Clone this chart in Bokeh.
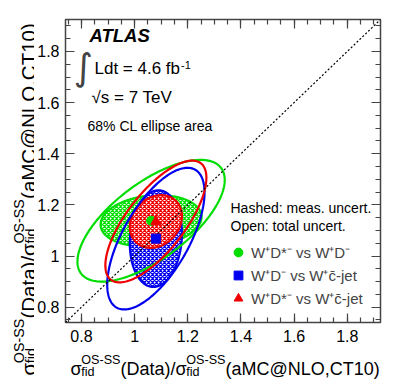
import numpy as np
from bokeh.plotting import figure
from bokeh.models import Label, Range1d, FixedTicker, LinearAxis, Legend, LegendItem, ColumnDataSource
from bokeh.layouts import row, column
from bokeh.embed import file_html
from bokeh.resources import INLINE

# ---------------- data ----------------
legend_labels = ["W⁺D*⁻ vs W⁺D⁻", "W⁺D⁻ vs W⁺c̄-jet", "W⁺D*⁻ vs W⁺c̄-jet"]
cent_x = [1.062, 1.080, 1.080]
cent_y = [1.138, 1.068, 1.135]
meas_sx = [0.190, 0.098, 0.098]
meas_sy = [0.100, 0.189, 0.103]
meas_rho = [0.15, 0.10, 0.20]
tot_sx = [0.277, 0.183, 0.190]
tot_sy = [0.238, 0.277, 0.238]
tot_rho = [0.67, 0.65, 0.72]
colors = ["#00dd00", "#0000ee", "#ee0000"]
markers = ["circle", "square", "triangle"]
axis_ticks = [0.8, 1.0, 1.2, 1.4, 1.6, 1.8]
axis_tick_labels = ["0.8", "1", "1.2", "1.4", "1.6", "1.8"]
axis_range = (0.74, 1.925)

FONT = "Liberation Sans"

# ---------------- layout helpers ----------------
YT_W = 34                            # width of the y-title strip
FL, FT, FW, FH = 64, 19, 315, 303    # frame position on page (px)
MAIN_H = 348
TOTAL_H = 383
RB = 19
span = axis_range[1] - axis_range[0]


def dx(px):
    return axis_range[0] + (px - FL) / FW * span


def dy(py):
    return axis_range[0] + (FT + FH - py) / FH * span


AW = {'(': .333, ')': .333, 'D': .722, 'a': .556, 't': .278, '/': .278, 'M': .833,
      'C': .722, '@': 1.015, 'N': .722, 'L': .556, 'O': .778, ',': .278, 'T': .611,
      '1': .556, '0': .556, 'S': .667, '-': .333, 'f': .278, 'i': .222, 'd': .556,
      'σ': .60, ' ': .278, '=': .584, '4': .556, '.': .278, '6': .556, 'b': .556}


def tw(s, size):
    return sum(AW.get(c, .556) for c in s) * size


def ellipse(cx, cy, sx, sy, rho, n=240):
    t = np.linspace(0, 2 * np.pi, n)
    x = cx + sx * np.cos(t)
    y = cy + sy * (rho * np.cos(t) + np.sqrt(1 - rho ** 2) * np.sin(t))
    return x, y


# ---------------- main figure ----------------
p = figure(frame_width=FW, frame_height=FH,
           x_range=Range1d(*axis_range), y_range=Range1d(*axis_range),
           output_backend="svg", toolbar_location=None,
           min_border_left=FL - YT_W, min_border_right=RB, min_border_top=FT,
           min_border_bottom=MAIN_H - FT - FH)
p.frame_align = False
p.grid.visible = False
p.outline_line_color = "#444444"
p.outline_line_width = 1.5
p.background_fill_color = "white"

bottom_ax = p.xaxis[0]
left_ax = p.yaxis[0]
top_ax = LinearAxis()
right_ax = LinearAxis()
p.add_layout(top_ax, "above")
p.add_layout(right_ax, "right")

minor = [round(v, 3) for v in np.arange(0.75, 1.925, 0.05)]
for ax in [bottom_ax, left_ax, top_ax, right_ax]:
    ax.ticker = FixedTicker(ticks=axis_ticks, minor_ticks=minor)
    ax.major_tick_in = 9
    ax.major_tick_out = 0
    ax.minor_tick_in = 5
    ax.minor_tick_out = 0
    ax.axis_line_color = None
    ax.major_tick_line_color = "#444444"
    ax.minor_tick_line_color = "#444444"
    ax.major_tick_line_width = 1.2
    ax.minor_tick_line_width = 1.2
    ax.major_label_text_font = FONT
    ax.major_label_text_font_size = "16px"
    ax.major_label_text_color = "black"
for ax in [bottom_ax, left_ax]:
    ax.major_label_overrides = dict(zip(axis_ticks, axis_tick_labels))
for ax in [top_ax, right_ax]:
    ax.major_label_overrides = {t: "" for t in axis_ticks}
    ax.major_label_standoff = 0
bottom_ax.major_label_standoff = 7
left_ax.major_label_standoff = 6

# hashed (measurement) ellipses
for i in range(3):
    ex, ey = ellipse(cent_x[i], cent_y[i], meas_sx[i], meas_sy[i], meas_rho[i])
    p.patch(ex, ey, fill_color="white", line_color=colors[i], line_width=2.2,
            hatch_pattern="diagonal_cross", hatch_color=colors[i], hatch_scale=4,
            hatch_weight=1.3)

# open (total) ellipses
for i in range(3):
    ex, ey = ellipse(cent_x[i], cent_y[i], tot_sx[i], tot_sy[i], tot_rho[i])
    p.line(ex, ey, line_color=colors[i], line_width=2.2)

# diagonal y = x
p.line(list(axis_range), list(axis_range), line_color="black", line_width=1.2,
       line_dash="2 2")

# central values
rends = []
for i in range(3):
    r = p.scatter([cent_x[i]], [cent_y[i]], marker=markers[i],
                  size=10 if markers[i] == "triangle" else 9,
                  fill_color=colors[i], line_color=colors[i])
    rends.append(r)

legend = Legend(items=[LegendItem(label=legend_labels[i], renderers=[rends[i]]) for i in range(3)],
                location=(162, 13), orientation="vertical",
                glyph_width=22, glyph_height=22, label_height=22, spacing=1,
                padding=0, margin=0, label_standoff=2,
                border_line_color=None, background_fill_alpha=0,
                label_text_font=FONT, label_text_font_size="15px")
p.add_layout(legend)


def lab(px, py, text, size, style="normal", **kw):
    p.add_layout(Label(x=dx(px), y=dy(py), text=text, text_font=FONT,
                       text_font_size=f"{size}px", text_font_style=style,
                       text_color="black", **kw))


lab(88, 45, "ATLAS", 18.5, "bold italic")
p.add_layout(Label(x=dx(82), y=dy(67), text="∫", text_font="DejaVu Sans",
                   text_font_size="37px", text_align="center", text_baseline="middle"))
lab(93, 77, "Ldt = 4.6 fb", 17)
lab(93 + tw("Ldt = 4.6 fb", 17) + 1, 68, "-1", 11)
lab(90, 106, "√s = 7 TeV", 17)
lab(86, 133, "68% CL ellipse area", 14)
lab(229, 215, "Hashed: meas. uncert.", 14)
lab(229, 233, "Open: total uncert.", 14)


# ---------------- axis titles (composed, in strips) ----------------
def title_pieces(F, sub_drop):
    out = []
    pos = 0.0
    for seg in ["σ", "SUPSUB", "(Data)/", "σ", "SUPSUB", "(aMC@NLO,CT10)"]:
        if seg == "SUPSUB":
            s = 0.7 * F
            out.append(("OS-SS", s, pos, 0.48 * F))
            out.append(("fid", s, pos, -sub_drop * F))
            pos += max(tw("OS-SS", s), tw("fid", s))
        else:
            out.append((seg, F, pos, 0.0))
            pos += tw(seg, F)
    return out


def strip(w, h):
    f = figure(width=w, height=h, x_range=Range1d(0, w), y_range=Range1d(0, h),
               output_backend="svg", toolbar_location=None, min_border=0,
               x_axis_location=None, y_axis_location=None, title=None)
    f.frame_align = False
    f.grid.visible = False
    f.outline_line_color = None
    return f


# x title strip: strip x = page x - YT_W ; strip y = TOTAL_H - page y
XT_H = TOTAL_H - MAIN_H
xt = strip(FL - YT_W + FW + RB, XT_H)
pcs = title_pieces(18, 0.22)
src = ColumnDataSource(dict(
    x=[70 - YT_W + a for t, s, a, r in pcs],
    y=[TOTAL_H - (368 - r) for t, s, a, r in pcs],
    text=[t for t, s, a, r in pcs],
    size=[f"{s:.1f}px" for t, s, a, r in pcs]))
xt.text(x="x", y="y", text="text", text_font_size="size", source=src,
        text_font={"value": FONT}, text_color="black",
        text_align="left", text_baseline="alphabetic")

# y title strip: strip x = page x ; strip y = TOTAL_H - page y
yt = strip(YT_W, TOTAL_H)
pcs = title_pieces(20.5, 0.12)
srcy = ColumnDataSource(dict(
    x=[28 - r for t, s, a, r in pcs],
    y=[TOTAL_H - (375 - a) for t, s, a, r in pcs],
    text=[t for t, s, a, r in pcs],
    size=[f"{s:.1f}px" for t, s, a, r in pcs]))
yt.text(x="x", y="y", text="text", text_font_size="size", source=srcy,
        text_font={"value": FONT}, text_color="black", angle=np.pi / 2,
        text_align="left", text_baseline="alphabetic")

layout = row(yt, column(p, xt))
open("out.html", "w").write(file_html(layout, INLINE))
